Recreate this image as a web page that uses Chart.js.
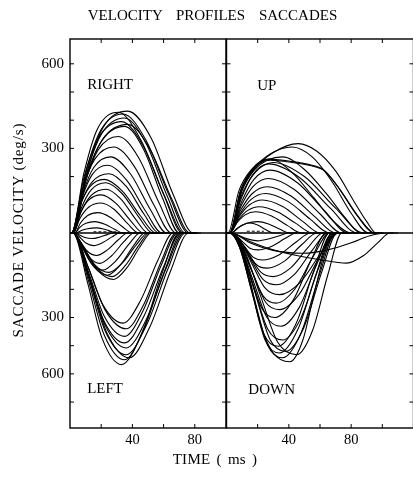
<!DOCTYPE html>
<html><head><meta charset="utf-8">
<script src="https://cdn.jsdelivr.net/npm/chart.js@4/dist/chart.umd.min.js"></script>
<style>
html,body{margin:0;padding:0;background:#fff;overflow:hidden;width:413px;height:478px;}
#wrap{position:relative;width:413px;height:478px;overflow:hidden;background:#fff;}
canvas{position:absolute;top:0;}
#c1{left:0;} #c2{left:200px;}
.t{position:absolute;font-family:"Liberation Serif","Times New Roman",serif;color:#000;white-space:pre;line-height:1;text-align:center;}
#title{left:0;width:425px;top:8.3px;font-size:15px;word-spacing:10px;}
#xt{left:0;width:430px;top:451.5px;font-size:15px;word-spacing:2px;letter-spacing:0.3px;}
#yt{left:-132px;top:222px;width:300px;height:16px;line-height:16px;font-size:15px;letter-spacing:0.9px;transform:rotate(-90deg);}
</style></head><body>
<div id="wrap">
<canvas id="c1" width="240" height="478" style="width:240px;height:478px"></canvas>
<canvas id="c2" width="230" height="478" style="width:230px;height:478px"></canvas>
<div class="t" id="title">VELOCITY PROFILES SACCADES</div>
<div class="t" id="xt">TIME ( ms )</div>
<div class="t" id="yt">SACCADE VELOCITY (deg/s)</div>
</div>
<script>
// ---- axis ticks / labels ----
const leftTimeTicks = [20, 40, 60, 80];
const rightTimeTicks = [20, 40, 60, 80, 100];
const timeLabels = [40, 80];
const velocityTicks = [-600, -500, -400, -300, -200, -100, 100, 200, 300, 400, 500, 600];
const velocityLabelValues = [600, 300, -300, -500];
const velocityLabelTexts = ['600', '300', '300', '600'];

// ---- velocity profiles: [time ms, velocity deg/s] ----
const rightProfiles = [
 [[0,0],[2,0],[11,216],[21,372],[37,432],[52,337],[66,138],[79,0],[84,0]],
 [[0,0],[1,0],[9,214],[17.5,368],[31,428],[45,334],[60,137],[72,0],[77,0]],
 [[0,0],[2,0],[10,211],[19.6,363],[34,422],[48.7,329],[63.4,135],[76,0],[81,0]],
 [[0,0],[2,0],[10.3,204],[20.2,351],[35,408],[48.7,318],[62.3,131],[74,0],[79,0]],
 [[0,0],[1,0],[10,193],[20.8,331],[37,385],[51,300],[65,123],[77,0],[82,0]],
 [[0,0],[2,0],[10.3,189],[20.2,325],[35,378],[47.3,295],[59.5,121],[70,0],[75,0]],
 [[0,0],[1,0],[9,198],[18.6,340],[33,395],[47,308],[61,126],[73,0],[78,0]],
 [[0,0],[2,0],[9.3,171],[18,294],[31,342],[44,267],[56.9,109],[68,0],[73,0]],
 [[0,0],[1,0],[7.8,153],[15.9,262],[28,305],[41,238],[53.9,98],[65,0],[70,0]],
 [[0,0],[2,0],[8,135],[15.2,232],[26,270],[38.6,211],[51.2,86],[62,0],[67,0]],
 [[0,0],[2,0],[7.5,120],[14.1,206],[24,240],[36.3,187],[48.5,77],[59,0],[64,0]],
 [[0,0],[1,0],[7,105],[14.2,181],[25,210],[36.2,164],[47.4,67],[57,0],[62,0]],
 [[0,0],[1,0],[6.3,95],[12.6,163],[22,190],[33.6,148],[45.1,61],[55,0],[60,0]],
 [[0,0],[2,0],[7.3,89],[13.6,153],[23,178],[33.5,139],[44,57],[53,0],[58,0]],
 [[0,0],[2,0],[7.3,78],[13.6,133],[23,155],[32.5,121],[41.9,50],[50,0],[55,0]],
 [[0,0],[2,0],[6.5,68],[11.9,116],[20,135],[29.5,105],[38.9,43],[47,0],[52,0]],
 [[0,0],[2,0],[6.5,53],[11.9,91],[20,106],[28.4,83],[36.8,34],[44,0],[49,0]],
 [[0,0],[3,0],[6.8,36],[11.3,62],[18,72],[25.7,56],[33.4,23],[40,0],[45,0]],
 [[0,0],[3,0],[6.3,20],[10.2,34],[16,40],[22.3,31],[28.6,13],[34,0],[39,0]],
 [[0,0],[4,0],[7.3,9],[11.2,15],[17,18],[21.5,14],[26.1,6],[30,0],[35,0]]
];
const leftProfiles = [
 [[0,0],[2,0],[11.3,-177],[20.6,-374],[33,-467],[46.7,-350],[60.3,-140],[72,0],[77,0]],
 [[0,0],[2,0],[12.8,-168],[23.6,-354],[38,-443],[51.3,-332],[64.6,-133],[76,0],[81,0]],
 [[0,0],[2,0],[12.2,-164],[22.4,-346],[36,-432],[49.3,-324],[62.6,-130],[74,0],[79,0]],
 [[0,0],[2,0],[11.9,-171],[21.8,-360],[35,-450],[47.3,-338],[59.5,-135],[70,0],[75,0]],
 [[0,0],[2,0],[12.2,-155],[22.4,-326],[36,-408],[49,-306],[61.9,-122],[73,0],[78,0]],
 [[0,0],[2,0],[11.9,-148],[21.8,-312],[35,-390],[47.6,-293],[60.2,-117],[71,0],[76,0]],
 [[0,0],[2,0],[11.9,-139],[21.8,-294],[35,-367],[46.9,-275],[58.8,-110],[69,0],[74,0]],
 [[0,0],[2,0],[12.2,-129],[22.4,-272],[36,-340],[47.2,-255],[58.4,-102],[68,0],[73,0]],
 [[0,0],[2,0],[11.6,-122],[21.2,-256],[34,-320],[45.2,-240],[56.4,-96],[66,0],[71,0]],
 [[0,0],[2,0],[9.8,-63],[17.6,-132],[28,-165],[36.4,-124],[44.8,-50],[52,0],[57,0]],
 [[0,0],[2,0],[9.5,-59],[17,-124],[27,-155],[35.4,-116],[43.8,-47],[51,0],[56,0]],
 [[0,0],[2,0],[8.6,-57],[15.2,-120],[24,-150],[32.4,-113],[40.8,-45],[48,0],[53,0]],
 [[0,0],[2,0],[8.9,-53],[15.8,-112],[25,-140],[33.8,-105],[42.5,-42],[50,0],[55,0]],
 [[0,0],[2,0],[7.7,-50],[13.4,-106],[21,-132],[29.4,-99],[37.8,-40],[45,0],[50,0]],
 [[0,0],[2,0],[7.1,-41],[12.2,-86],[19,-108],[26.7,-81],[34.4,-32],[41,0],[46,0]],
 [[0,0],[2,0],[6.5,-30],[11,-64],[17,-80],[24,-60],[31,-24],[37,0],[42,0]],
 [[0,0],[3,0],[6.6,-17],[10.2,-36],[15,-45],[21,-34],[26.9,-14],[32,0],[37,0]],
 [[0,0],[3,0],[6.3,-8],[9.6,-16],[14,-20],[18.9,-15],[23.8,-6],[28,0],[33,0]]
];
const upProfiles = [
 [[0,0],[2,0],[10,150],[18,225],[30,285],[46,317],[58,290],[70,220],[82,110],[90,40],[96,0],[101,0]],
 [[0,0],[2,0],[10,155],[18,230],[28,280],[42,305],[55,270],[68,180],[80,70],[91,0],[96,0]],
 [[0,0],[2,0],[9,150],[17,230],[27,262],[40,255],[55,240],[62,225],[72,160],[84,60],[95,0],[100,0]],
 [[0,0],[2,0],[9,148],[17,226],[28,258],[42,250],[56,236],[63,220],[73,152],[85,55],[95,0],[100,0]],
 [[0,0],[2,0],[9,145],[18,225],[36,270],[50,225],[64,140],[76,55],[86,0],[91,0]],
 [[0,0],[1,0],[8,150],[16,225],[28,262],[42,215],[56,125],[68,45],[80,0],[85,0]],
 [[0,0],[2,0],[9,125],[18,212],[30,250],[50,200],[70,88],[88,0],[93,0]],
 [[0,0],[2,0],[9.5,123],[17,208],[27,245],[47,196],[66.9,86],[84,0],[89,0]],
 [[0,0],[2,0],[9.8,112],[17.6,190],[28,223],[45.5,178],[63,78],[78,0],[83,0]],
 [[0,0],[2,0],[9.5,97],[17,164],[27,193],[43.5,154],[59.9,68],[74,0],[79,0]],
 [[0,0],[2,0],[9.2,82],[16.4,139],[26,164],[41.4,131],[56.8,57],[70,0],[75,0]],
 [[0,0],[2,0],[8.9,70],[15.8,119],[25,140],[39.4,112],[53.7,49],[66,0],[71,0]],
 [[0,0],[2,0],[8.3,59],[14.6,99],[23,117],[36,94],[48.9,41],[60,0],[65,0]],
 [[0,0],[2,0],[7.7,47],[13.4,79],[21,93],[32.9,74],[44.8,33],[55,0],[60,0]],
 [[0,0],[2,0],[7,38],[12,64],[18.6,75],[28.9,60],[39.2,26],[48,0],[53,0]],
 [[0,0],[3,0],[8,20],[13,34],[20,40],[27,32],[34,14],[40,0],[45,0]],
 [[0,0],[3,0],[7,17],[11,30],[15,35],[20,28],[25,12],[30,0],[35,0]]
];
const downProfiles = [
 [[0,0],[2,0],[8,-35],[15,-166],[21.5,-320],[30,-426],[40.7,-457],[49,-380],[55.6,-230],[62,-90],[68,-8],[73,0],[78,0]],
 [[0,0],[2,0],[8.8,-53],[17.3,-222],[26.5,-399],[36,-443],[47.9,-354],[59.8,-146],[70,0],[75,0]],
 [[0,0],[2,0],[8.4,-51],[16.4,-213],[25,-383],[34,-426],[45.9,-341],[57.8,-141],[68,0],[73,0]],
 [[0,0],[2,0],[10.6,-52],[21.4,-216],[33,-389],[45,-432],[55.2,-346],[65.3,-143],[74,0],[79,0]],
 [[0,0],[2,0],[8.2,-48],[16,-201],[24.3,-362],[33,-402],[44.6,-322],[56.1,-133],[66,0],[71,0]],
 [[0,0],[2,0],[9.2,-50],[18.2,-210],[27.9,-378],[38,-420],[49.6,-336],[61.1,-139],[71,0],[76,0]],
 [[0,0],[2,0],[8.8,-46],[17.3,-190],[26.5,-342],[36,-380],[47.6,-304],[59.1,-125],[69,0],[74,0]],
 [[0,0],[2,0],[8.6,-40],[16.9,-166],[25.8,-298],[35,-331],[46.6,-265],[58.1,-109],[68,0],[73,0]],
 [[0,0],[2,0],[7.8,-36],[15.1,-150],[22.9,-270],[31,-300],[42.6,-240],[54.1,-99],[64,0],[69,0]],
 [[0,0],[2,0],[8.4,-33],[16.4,-136],[25,-245],[34,-272],[46.6,-218],[59.2,-90],[70,0],[75,0]],
 [[0,0],[2,0],[8,-30],[15.5,-125],[23.6,-224],[32,-249],[43.9,-199],[55.8,-82],[66,0],[71,0]],
 [[0,0],[2,0],[8.4,-26],[16.4,-110],[25,-197],[34,-219],[47.3,-175],[60.6,-72],[72,0],[77,0]],
 [[0,0],[2,0],[8,-22],[15.5,-92],[23.6,-166],[32,-184],[43.6,-147],[55.1,-61],[65,0],[70,0]],
 [[0,0],[2,0],[7.6,-19],[14.6,-78],[22.2,-140],[30,-155],[41.2,-124],[52.4,-51],[62,0],[67,0]],
 [[0,0],[2,0],[6.8,-15],[12.8,-63],[19.3,-113],[26,-125],[37.2,-100],[48.4,-41],[58,0],[63,0]],
 [[0,0],[2,0],[6.2,-12],[11.5,-48],[17.1,-86],[23,-96],[33.9,-77],[44.7,-32],[54,0],[59,0]],
 [[0,0],[2,0],[5.6,-7],[10.1,-30],[15,-54],[20,-60],[28.8,-48],[37.5,-20],[45,0],[50,0]],
 [[0,0],[3,0],[15,-30],[30,-60],[45,-80],[60,-95],[77,-107],[88,-80],[97,-35],[105,0],[110,0]],
 [[0,0],[3,0],[15,-35],[30,-62],[49,-72],[65,-60],[80,-35],[92,-10],[102,0],[107,0]],
 [[0,0],[3,0],[8,-10],[14,-22],[20,-28],[28,-20],[35,-8],[40,0],[45,0]]
];
const leftDashed = [[15,4],[31,4]];
const rightDashed = [[13,6],[24,6]];

// ---- drawing helpers ----
const SERIF = "'Liberation Serif','Times New Roman',serif";

const framePlugin = {
  id: 'frame',
  afterDatasetsDraw(chart, args, opts) {
    const {ctx, chartArea} = chart;
    const {left, right, top, bottom} = chartArea;
    const xs = chart.scales.x, ys = chart.scales.y;
    ctx.save();
    ctx.strokeStyle = '#000';
    ctx.lineWidth = 1.4;
    ctx.strokeRect(left, top, right - left, bottom - top);
    ctx.lineWidth = 1;
    ctx.beginPath();
    opts.xTicks.forEach(v => {
      const px = xs.getPixelForValue(v);
      ctx.moveTo(px, bottom); ctx.lineTo(px, bottom - 4);
      ctx.moveTo(px, top); ctx.lineTo(px, top + 4);
    });
    velocityTicks.forEach(v => {
      const py = ys.getPixelForValue(v);
      ctx.moveTo(left, py); ctx.lineTo(left + 4, py);
      ctx.moveTo(right, py); ctx.lineTo(right - 4, py);
    });
    ctx.stroke();
    ctx.font = '15px ' + SERIF;
    ctx.fillStyle = '#000';
    ctx.textAlign = 'left';
    ctx.textBaseline = 'alphabetic';
    opts.labels.forEach(l => ctx.fillText(l.text, xs.getPixelForValue(l.x), ys.getPixelForValue(l.y)));
    ctx.restore();
  }
};

function buildDatasets(groups, dashed, xmax) {
  const ds = [];
  ds.push({data: [{x: 0, y: 0}, {x: xmax, y: 0}], borderColor: '#000', borderWidth: 1.5, pointRadius: 0});
  groups.forEach(g => g.forEach(p => ds.push({
    data: p.map(([x, y]) => ({x, y})),
    borderColor: '#000', borderWidth: 1.1, pointRadius: 0,
    cubicInterpolationMode: 'monotone', fill: false
  })));
  ds.push({data: dashed.map(([x, y]) => ({x, y})), borderColor: '#000', borderWidth: 1, borderDash: [3, 2], pointRadius: 0});
  return ds;
}

function makeChart(id, groups, dashed, xmax, xTicks, isLeft, labels) {
  return new Chart(document.getElementById(id), {
    type: 'line',
    data: {datasets: buildDatasets(groups, dashed, xmax)},
    options: {
      responsive: false, animation: false, devicePixelRatio: 1,
      layout: {padding: isLeft ? {top: 39, right: 14, left: 0, bottom: 0} : {top: 39, right: 16.5, left: 26.5, bottom: 0}},
      plugins: {legend: {display: false}, tooltip: {enabled: false},
        frame: {xTicks: xTicks, labels: labels}},
      scales: {
        x: {
          type: 'linear', min: 0, max: xmax,
          grid: {display: false, drawTicks: false}, border: {display: false},
          afterBuildTicks: s => { s.ticks = xTicks.map(v => ({value: v})); },
          afterFit: s => { s.height = 50; },
          ticks: {autoSkip: false, maxRotation: 0, padding: 3, color: '#000',
            font: {family: SERIF, size: 14.5},
            callback: v => timeLabels.includes(v) ? String(v) : ''}
        },
        y: {
          type: 'linear', min: -692, max: 688, display: isLeft,
          grid: {display: false, drawTicks: false}, border: {display: false},
          afterBuildTicks: s => { s.ticks = velocityTicks.map(v => ({value: v})); },
          afterFit: s => { if (isLeft) s.width = 70; },
          ticks: {autoSkip: false, padding: 6, color: '#000',
            font: {family: SERIF, size: 15},
            callback: v => { const i = velocityLabelValues.indexOf(v); return i >= 0 ? velocityLabelTexts[i] : ''; }}
        }
      }
    },
    plugins: [framePlugin]
  });
}

makeChart('c1', [rightProfiles, leftProfiles], leftDashed, 100, leftTimeTicks, true,
  [{text: 'RIGHT', x: 11, y: 512}, {text: 'LEFT', x: 11, y: -567}]);
makeChart('c2', [upProfiles, downProfiles], rightDashed, 120, rightTimeTicks, false,
  [{text: 'UP', x: 19.7, y: 506}, {text: 'DOWN', x: 14, y: -573}]);
</script>
</body></html>
